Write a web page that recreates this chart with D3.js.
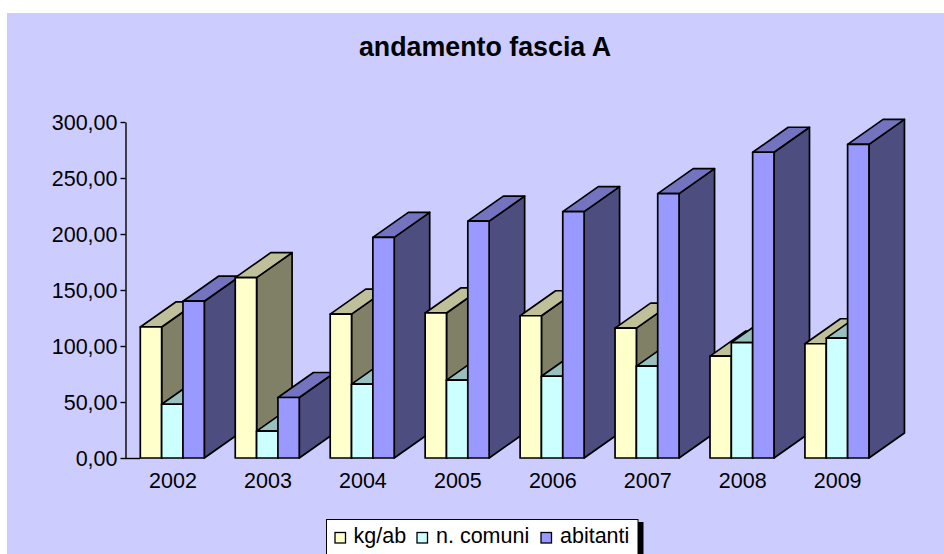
<!DOCTYPE html>
<html>
<head>
<meta charset="utf-8">
<script src="https://cdn.jsdelivr.net/npm/d3@7/dist/d3.min.js"></script>
<style>
html,body{margin:0;padding:0;background:#fff;overflow:hidden}
svg{display:block}
text{font-family:"Liberation Sans",Arial,sans-serif;fill:#000}
</style>
</head>
<body>
<svg id="c" width="944" height="554"></svg>
<script>
const categories = ["2002","2003","2004","2005","2006","2007","2008","2009"];
const seriesNames = ["kg/ab","n. comuni","abitanti"];
const kgAb = [117,161,128.5,129.5,127,116,91,102];
const nComuni = [48,24,66,69.5,73,82,103,107];
const abitanti = [140,54,197,211.5,220,236,273,280];
const yTicks = [0,50,100,150,200,250,300];
const seriesValues = [kgAb,nComuni,abitanti];
const fronts = ["#FFFFCC","#CCFFFF","#9999FF"];
const tops = ["#BFBF99","#99BFBF","#7373BF"];
const sides = ["#808066","#668080","#4D4D80"];

const svg = d3.select("#c");
svg.append("rect").attr("x",7).attr("y",13).attr("width",937).attr("height",541).attr("fill","#CCCCFF");

svg.append("text").attr("x",485).attr("y",56).attr("text-anchor","middle")
  .style("font-size","26.8px").style("font-weight","bold").text("andamento fascia A");

const y = d3.scaleLinear().domain([0,300]).range([458,122]);
const x = d3.scaleBand().domain(categories).range([125,884.6]);
const inner = d3.scaleBand().domain(d3.range(3)).range([15.3,79.3]);
const dx = 35.5, dy = 25;

const yAxis = d3.axisLeft(y).tickValues(yTicks).tickSize(5).tickSizeOuter(0)
  .tickFormat(d => d3.format(".2f")(d).replace(".",","));
const gy = svg.append("g").attr("transform","translate(125.5,0)").call(yAxis);
gy.selectAll("line,path").attr("stroke","#000").attr("stroke-width",1.4);
gy.selectAll("text").style("font-size","21.5px").attr("x",-8).attr("dy","0.35em");

const xAxis = d3.axisBottom(x).tickSize(0);
const gx = svg.append("g").attr("transform","translate(0,458)").call(xAxis);
gx.select("path").attr("stroke","#000").attr("stroke-width",1.4).attr("d","M125,0.5H140");
gx.selectAll("text").style("font-size","21.5px").attr("y",22).attr("dy","0.35em");
gx.selectAll(".tick").attr("transform",d=>`translate(${x(d)+48},0)`);

const bars = svg.append("g").attr("stroke","#000").attr("stroke-width",1.7).attr("stroke-linejoin","round");
categories.forEach((c,i)=>{
  seriesValues.forEach((vals,s)=>{
    const x0 = x(c)+inner(s), x1 = x0+inner.bandwidth(), yt = y(vals[i]), yb = y(0);
    const g = bars.append("g");
    g.append("path").attr("fill",sides[s])
      .attr("d",d3.line()([[x1,yb],[x1+dx,yb-dy],[x1+dx,yt-dy],[x1,yt]])+"Z");
    g.append("path").attr("fill",tops[s])
      .attr("d",d3.line()([[x0,yt],[x0+dx,yt-dy],[x1+dx,yt-dy],[x1,yt]])+"Z");
    g.append("rect").attr("x",x0).attr("y",yt).attr("width",x1-x0).attr("height",yb-yt).attr("fill",fronts[s]);
  });
});

const lg = svg.append("g");
lg.append("rect").attr("x",638).attr("y",522).attr("width",5.5).attr("height",32).attr("fill","#000");
lg.append("rect").attr("x",326.5).attr("y",519.5).attr("width",311.5).attr("height",40).attr("fill","#fff").attr("stroke","#000").attr("stroke-width",1);
const lx = [335,417,541], tx = [353.5,436,560];
seriesNames.forEach((n,i)=>{
  lg.append("rect").attr("x",lx[i]).attr("y",532.5).attr("width",10.5).attr("height",10.5)
    .attr("fill",fronts[i]).attr("stroke","#000").attr("stroke-width",1.3);
  lg.append("text").attr("x",tx[i]).attr("y",543).style("font-size","21.5px").text(n);
});
</script>
</body>
</html>
